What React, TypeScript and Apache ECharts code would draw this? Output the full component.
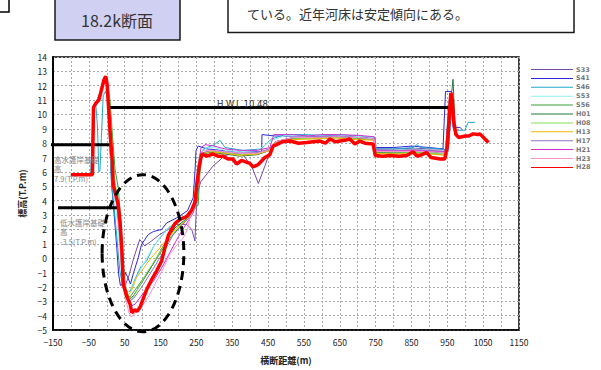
import React, { useEffect, useRef } from "react";
import * as echarts from "echarts";

// Survey years in legend order
const surveyNames = ["S33", "S41", "S46", "S53", "S56", "H01", "H08", "H13", "H17", "H21", "H23", "H28"];
const surveyColors = ["#7a4aa8", "#2a2ad6", "#22a8c8", "#8ef0f0", "#3aa03a", "#1e7a3a", "#86e05a", "#f2b800", "#9070c0", "#d030d0", "#ff92cc", "#ff0000"];

// Cross-section profiles: [distance (m), elevation (T.P.m)]
const S33 = [[-100,5.8],[-40,5.8],[-37,10.5],[-30,10.8],[-15,11.6],[-5,12.4],[0,12.0],[6,10.0],[12,7.5],[18,5.2],[28,3.9],[36,1.5],[44,-1.0],[50,-2.0],[62,-1.2],[75,0.0],[92,1.3],[106,0.85],[125,1.2],[148,1.65],[172,2.0],[195,2.35],[223,2.35],[237,2.0],[246,1.2],[250,3.5],[256,4.8],[262,5.3],[296,6.4],[330,7.15],[360,7.3],[380,7.2],[404,6.4],[423,5.2],[441,6.4],[455,7.4],[470,8.1],[520,8.4],[560,8.4],[600,8.45],[650,8.5],[700,8.4],[745,8.3],[750,7.6],[800,7.6],[860,7.65],[900,7.6],[940,7.6],[952,7.4],[962,10.3],[966,10.5],[972,9.0]];
const S41 = [[-100,5.8],[-40,5.8],[-38,10.4],[-31,10.8],[-20,11.4],[-8,12.3],[-2,12.5],[3,11.5],[8,8.5],[13,5.3],[18,3.8],[24,2.0],[28,0.7],[33,-1.1],[38,-1.9],[46,-1.8],[52,-1.0],[58,-1.3],[66,-1.8],[75,-1.0],[88,0.05],[97,0.95],[116,1.65],[130,1.85],[153,2.0],[167,2.45],[195,2.8],[225,3.3],[241,4.2],[246,6.0],[249,7.5],[255,7.8],[280,7.6],[320,7.5],[360,7.4],[400,7.4],[432,7.4],[433,8.6],[470,8.5],[520,8.5],[560,8.5],[600,8.5],[650,8.5],[700,8.5],[748,8.3],[750,7.7],[800,7.7],[850,7.8],[900,7.7],[938,7.6],[945,11.6],[962,11.6],[966,9.1],[985,9.1],[990,9.0]];
const S46 = [[-100,5.8],[-45,5.8],[-37,10.7],[-31,10.8],[-26,9.2],[-22,6.0],[-19,6.1],[-10,11.3],[-4,11.6],[2,11.3],[8,8.0],[14,5.0],[20,3.6],[28,1.5],[36,-0.8],[44,-1.9],[55,-2.3],[65,-2.3],[80,-1.4],[95,-0.6],[111,-0.2],[130,0.8],[148,1.4],[172,2.1],[200,2.6],[232,2.9],[244,3.6],[250,5.5],[258,7.0],[270,7.6],[300,7.9],[316,8.2],[330,7.7],[380,7.5],[430,7.6],[460,8.3],[500,8.6],[550,8.6],[600,8.55],[650,8.6],[700,8.5],[748,8.4],[752,7.6],[800,7.6],[855,7.7],[865,7.9],[875,7.7],[930,7.6],[945,7.5],[955,11.0],[962,11.3],[967,8.9],[999,8.9],[1008,9.45],[1027,9.45]];
const S53 = [[-100,5.8],[-40,5.8],[-37,10.6],[-28,10.9],[-15,11.7],[-6,12.3],[0,12.0],[6,9.5],[12,6.5],[20,4.3],[30,2.5],[38,0.0],[45,-1.9],[55,-2.5],[65,-2.2],[80,-1.5],[100,-0.5],[125,0.6],[150,1.5],[175,2.2],[205,2.6],[235,3.0],[246,4.0],[252,6.0],[260,7.3],[280,7.7],[300,7.7],[330,7.5],[370,7.4],[420,7.5],[460,8.2],[500,8.55],[560,8.5],[620,8.6],[680,8.5],[746,8.4],[750,7.5],[800,7.5],[860,7.6],[900,7.5],[945,7.4],[955,10.8],[962,11.0],[968,9.0],[975,8.7]];
const S56 = [[-100,5.8],[-40,5.8],[-37,10.5],[-28,10.9],[-14,11.8],[-4,12.4],[2,12.2],[9,11.0],[16,8.5],[23,6.2],[32,4.9],[38,3.0],[45,0.0],[52,-2.0],[60,-2.6],[65,-2.7],[85,-2.0],[111,-1.1],[135,-0.2],[158,0.7],[180,1.5],[204,2.2],[230,3.0],[255,3.7],[260,6.0],[266,7.2],[290,7.4],[330,7.3],[370,7.2],[420,7.3],[455,7.6],[470,8.1],[520,8.35],[580,8.4],[640,8.4],[700,8.35],[746,8.3],[750,7.4],[800,7.35],[860,7.4],[900,7.4],[945,7.3],[955,10.5],[962,11.0],[968,9.0],[975,8.6]];
const H01 = [[-100,5.8],[-40,5.8],[-37,10.5],[-30,10.8],[-15,11.7],[-5,12.4],[1,12.1],[7,10.5],[13,7.8],[19,5.5],[28,4.0],[36,1.8],[44,-0.8],[52,-2.3],[62,-2.9],[75,-2.6],[95,-1.8],[120,-0.8],[145,0.3],[168,1.3],[190,2.1],[215,2.6],[240,3.2],[252,4.2],[257,6.5],[264,7.3],[290,7.35],[330,7.25],[370,7.1],[420,7.2],[455,7.5],[470,8.0],[520,8.3],[580,8.35],[640,8.4],[700,8.3],[746,8.25],[750,7.35],[800,7.3],[860,7.35],[900,7.3],[945,7.2],[955,10.0],[962,11.5],[966,12.45],[969,10.6],[972,9.0],[978,8.6]];
const H08 = [[-100,5.8],[-40,5.8],[-37,10.5],[-30,10.8],[-15,11.7],[-5,12.5],[1,12.2],[8,11.0],[15,8.0],[22,5.5],[30,4.2],[38,2.0],[45,-0.5],[52,-2.1],[60,-2.7],[72,-2.8],[90,-2.0],[112,-1.0],[138,0.0],[160,0.9],[185,1.8],[210,2.4],[236,3.0],[250,3.8],[256,6.0],[262,7.2],[290,7.45],[330,7.35],[370,7.2],[420,7.3],[455,7.55],[470,8.05],[520,8.3],[580,8.35],[640,8.4],[700,8.3],[746,8.25],[750,7.3],[800,7.3],[860,7.35],[900,7.3],[945,7.2],[955,10.2],[962,11.2],[968,9.0],[975,8.6]];
const H13 = [[-100,5.8],[-40,5.8],[-37,10.5],[-30,10.8],[-15,11.7],[-5,12.4],[1,12.1],[7,10.5],[13,7.6],[19,5.3],[27,4.1],[35,2.2],[43,-0.5],[50,-2.0],[60,-2.6],[70,-2.2],[83,-1.35],[100,-0.8],[111,-0.4],[130,0.2],[148,0.7],[170,1.4],[195,2.1],[220,2.6],[242,3.2],[252,4.5],[258,6.6],[265,7.3],[290,7.4],[330,7.3],[370,7.15],[420,7.25],[455,7.5],[470,8.0],[520,8.25],[580,8.3],[640,8.35],[700,8.25],[746,8.2],[750,7.3],[800,7.25],[860,7.3],[900,7.25],[945,7.15],[955,10.0],[962,11.0],[968,9.0],[975,8.6]];
const H17 = [[-100,5.8],[-40,5.8],[-37,10.5],[-30,10.8],[-15,11.7],[-5,12.4],[1,12.1],[7,10.5],[13,7.8],[19,5.4],[28,4.0],[36,1.9],[44,-0.8],[52,-2.4],[62,-3.0],[75,-2.8],[95,-2.1],[118,-1.2],[140,-0.3],[162,0.6],[185,1.6],[210,2.3],[236,3.0],[250,3.8],[256,6.2],[263,7.3],[290,7.5],[330,7.4],[370,7.3],[420,7.35],[455,7.6],[470,8.1],[520,8.4],[580,8.45],[640,8.5],[700,8.4],[746,8.3],[750,7.55],[800,7.5],[860,7.55],[900,7.5],[945,7.45],[955,10.5],[962,10.9],[968,9.0],[975,8.6]];
const H21 = [[-100,5.8],[-40,5.8],[-37,10.5],[-30,10.8],[-15,11.7],[-5,12.45],[1,12.1],[7,10.5],[13,7.6],[19,5.2],[27,4.1],[35,2.0],[43,-0.9],[50,-2.4],[60,-3.0],[70,-3.3],[79,-3.2],[100,-2.5],[130,-1.6],[155,-0.6],[176,0.4],[200,1.5],[222,2.4],[240,3.1],[250,4.0],[256,6.5],[263,7.7],[275,7.9],[300,7.8],[330,7.6],[370,7.5],[420,7.5],[455,7.7],[466,8.6],[520,8.6],[560,8.5],[600,8.6],[640,8.6],[700,8.55],[746,8.45],[750,7.5],[800,7.45],[860,7.5],[900,7.45],[945,7.4],[955,10.4],[962,11.0],[968,9.0],[975,8.6]];
const H23 = [[-100,5.8],[-40,5.8],[-37,10.5],[-30,10.8],[-15,11.7],[-5,12.4],[1,12.1],[7,10.5],[13,7.6],[19,5.1],[27,4.0],[35,1.8],[43,-1.2],[52,-2.8],[62,-3.8],[69,-4.1],[80,-3.8],[97,-3.4],[118,-2.6],[139,-1.6],[158,-0.7],[176,0.27],[195,0.9],[213,1.4],[225,2.0],[232,2.8],[245,3.5],[252,5.5],[258,7.0],[270,7.5],[300,7.5],[330,7.4],[370,7.3],[420,7.3],[455,7.55],[470,8.1],[520,8.4],[580,8.4],[640,8.45],[700,8.4],[746,8.3],[750,7.45],[800,7.4],[860,7.45],[900,7.4],[945,7.35],[955,10.0],[962,10.8],[968,9.0],[975,8.6]];
const H28 = [[-100,5.8],[-40,5.8],[-37,10.5],[-30,10.8],[-22,11.0],[-15,11.7],[-8,12.4],[-3,12.65],[1,12.1],[5,10.5],[10,8.5],[15,6.9],[18,5.1],[25,4.4],[32,3.7],[37,2.5],[42,0.7],[46,-1.8],[55,-2.6],[65,-3.2],[70,-3.8],[78,-3.6],[85,-3.7],[93,-3.4],[102,-2.8],[111,-2.2],[125,-1.5],[139,-0.9],[153,-0.2],[162,0.7],[172,1.6],[190,2.4],[204,2.7],[223,2.9],[237,3.35],[246,3.9],[251,5.1],[258,6.4],[265,7.25],[279,7.1],[296,7.25],[310,7.1],[324,7.1],[338,6.9],[352,6.9],[362,6.55],[376,6.8],[399,6.6],[408,6.35],[422,6.5],[441,7.0],[455,7.2],[464,7.8],[474,7.9],[490,8.1],[511,8.15],[535,8.0],[558,8.05],[575,8.1],[595,8.15],[610,8.0],[623,8.3],[637,8.1],[650,8.15],[665,8.2],[678,8.3],[692,7.95],[706,8.15],[720,8.0],[743,7.95],[749,7.15],[770,7.1],[790,7.15],[815,7.1],[837,7.15],[855,7.4],[865,7.1],[874,7.15],[892,7.35],[905,7.0],[930,6.9],[943,6.9],[950,7.8],[957,10.5],[960,11.5],[964,11.0],[968,9.5],[974,8.6],[982,8.4],[1000,8.5],[1010,8.5],[1022,8.65],[1035,8.6],[1041,8.65],[1055,8.3],[1065,8.05]];
const surveyProfiles = [S33, S41, S46, S53, S56, H01, H08, H13, H17, H21, H23, H28];

// Reference levels
const hwlLevel = 10.48;
const hwlSpan = [9, 966];
const highRevetmentLevel = 7.9;
const highRevetmentSpan = [-156, 12];
const lowRevetmentLevel = 3.5;
const lowRevetmentSpan = [-136, 31];

// Dashed outline around the low-water channel: centre [x, y], radii [x, y]
const channelCentre = [101, 0.34];
const channelRadii = [114, 5.47];

const jp = '"Noto Sans CJK JP", "Noto Sans", sans-serif';
const noteStyle = { fontFamily: jp, fontSize: 7.5, fill: "#888", align: "left", verticalAlign: "middle" };

export default function App() {
  const ref = useRef<HTMLDivElement>(null);

  useEffect(() => {
    if (!ref.current) return;
    const chart = echarts.init(ref.current, null, { renderer: "svg" });

    const profileSeries = surveyProfiles.map((d, i) => ({
      name: surveyNames[i],
      type: "line",
      data: d,
      symbol: "none",
      color: surveyColors[i],
      lineStyle: { width: surveyNames[i] === "H28" ? 3.5 : 1, color: surveyColors[i] },
      z: surveyNames[i] === "H28" ? 5 : 3,
      silent: true,
    }));

    const levelLine = (name: string, span: number[], level: number) => ({
      name,
      type: "line",
      data: [[span[0], level], [span[1], level]],
      symbol: "none",
      clip: false,
      lineStyle: { width: 3, color: "#000" },
      z: 4,
      silent: true,
    });

    const note = (x: number, y: number, text: string) => ({
      type: "text", x, y, z: 10, style: { ...noteStyle, text },
    });

    chart.setOption({
      animation: false,
      grid: {
        left: 53,
        right: 82,
        top: 57,
        bottom: 37,
        show: true,
        borderColor: "#000",
        borderWidth: 1.5,
      },
      xAxis: {
        type: "value",
        min: -150,
        max: 1150,
        interval: 50,
        name: "横断距離(m)",
        nameLocation: "middle",
        nameGap: 26,
        nameTextStyle: { fontFamily: jp, fontSize: 9, color: "#222", fontWeight: "bold" },
        axisLine: { show: true, onZero: false, lineStyle: { color: "#000", width: 1.5 } },
        axisTick: { show: false },
        axisLabel: {
          fontFamily: jp,
          fontSize: 8.5,
          color: "#222",
          margin: 8,
          formatter: (v: number) => (((v + 150) % 100 === 0) ? String(v).replace("-", "\u2212") : ""),
        },
        splitLine: { show: true, lineStyle: { color: "#aaa", type: [2, 2], width: 1 } },
      },
      yAxis: {
        type: "value",
        min: -5,
        max: 14,
        interval: 1,
        name: "標高(T.P.m)",
        nameLocation: "middle",
        nameGap: 20,
        nameRotate: 90,
        nameTextStyle: { fontFamily: jp, fontSize: 9, color: "#222", fontWeight: "bold" },
        axisLine: { show: true, onZero: false, lineStyle: { color: "#000", width: 2 } },
        axisTick: { show: false },
        axisLabel: {
          fontFamily: jp,
          fontSize: 8.5,
          color: "#222",
          margin: 6,
          formatter: (v: number) => String(v).replace("-", "\u2212"),
        },
        splitLine: { show: true, lineStyle: { color: "#aaa", type: [2, 2], width: 1 } },
      },
      legend: {
        data: surveyNames,
        orient: "vertical",
        left: 531,
        top: 66,
        itemWidth: 42,
        itemHeight: 7,
        itemGap: 1.9,
        padding: 0,
        icon: "path://M0,0H42V1H0Z",
        selectedMode: false,
        textStyle: { fontFamily: '"DejaVu Sans", sans-serif', fontSize: 6.5, lineHeight: 7, color: "#777", fontWeight: "bold", padding: [0, 0, 0, -2] },
      },
      graphic: [
        { type: "rect", shape: { x: -2, y: -2, width: 11, height: 14 }, style: { fill: "#fff", stroke: "#000", lineWidth: 1.5 } },
        { type: "rect", shape: { x: 55, y: -2, width: 125, height: 42 }, style: { fill: "#d0d0f2", stroke: "#1a1a1a", lineWidth: 1.5 } },
        { type: "text", x: 117, y: 20, style: { text: "18.2k断面", fontFamily: jp, fontSize: 16, fill: "#333", align: "center", verticalAlign: "middle" } },
        { type: "rect", shape: { x: 228, y: -2, width: 346, height: 34.5 }, style: { fill: "#fff", stroke: "#1a1a1a", lineWidth: 1.5 } },
        { type: "text", x: 247, y: 13, style: { text: "ている。近年河床は安定傾向にある。", fontFamily: jp, fontSize: 13, fill: "#333", align: "left", verticalAlign: "middle" } },
        note(54, 159, "高水護岸基礎"),
        note(54, 168.5, "高"),
        note(54, 178, "7.9(T.P.m)"),
        note(60, 222, "低水護岸基礎"),
        note(60, 231.5, "高"),
        note(60, 241, "-3.5(T.P.m)"),
        { type: "text", x: 217, y: 104, z: 10, style: { text: "H.W.L 10.48", fontFamily: '"DejaVu Sans", sans-serif', fontSize: 8.5, fill: "#333", align: "left", verticalAlign: "middle" } },
      ],
      series: [
        levelLine("HWL", hwlSpan, hwlLevel),
        levelLine("高水護岸基礎高", highRevetmentSpan, highRevetmentLevel),
        levelLine("低水護岸基礎高", lowRevetmentSpan, lowRevetmentLevel),
        ...profileSeries,
        {
          name: "channel",
          type: "custom",
          clip: false,
          silent: true,
          z: 6,
          data: [channelCentre],
          renderItem: (_params: any, api: any) => {
            const c = api.coord([api.value(0), api.value(1)]);
            const s = api.size([channelRadii[0], channelRadii[1]]);
            return {
              type: "ellipse",
              shape: { cx: c[0], cy: c[1], rx: s[0], ry: s[1] },
              style: { fill: "none", stroke: "#000", lineWidth: 3, lineDash: [9, 6] },
            };
          },
        },
      ],
    });

    return () => chart.dispose();
  }, []);

  return (
    <div
      ref={ref}
      style={{ position: "fixed", left: 0, top: 0, width: 601, height: 370, background: "#fff" }}
    />
  );
}
